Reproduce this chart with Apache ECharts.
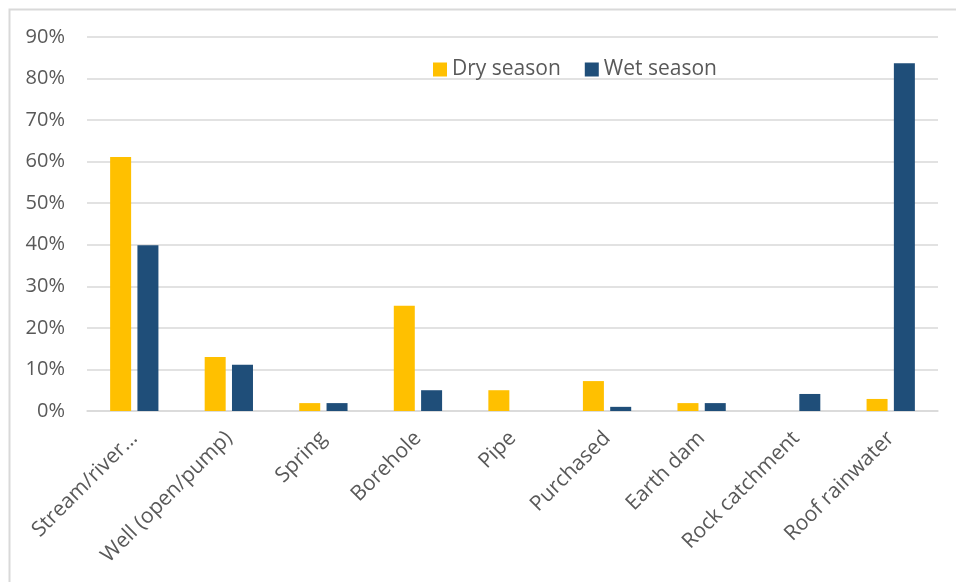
<!DOCTYPE html>
<html>
<head>
<meta charset="utf-8">
<script src="https://cdn.jsdelivr.net/npm/echarts@6/dist/echarts.min.js"></script>
<style>html,body{margin:0;padding:0;background:#fff;}#c{width:956px;height:582px;}</style>
</head>
<body>
<div id="c"></div>
<script>
const categories = ['Stream/river...', 'Well (open/pump)', 'Spring', 'Borehole', 'Pipe', 'Purchased', 'Earth dam', 'Rock catchment', 'Roof rainwater'];
const drySeason = [0.611, 0.130, 0.019, 0.253, 0.050, 0.072, 0.019, 0, 0.029];
const wetSeason = [0.399, 0.111, 0.019, 0.050, 0, 0.010, 0.019, 0.041, 0.837];
const seriesNames = ['Dry season', 'Wet season'];

const FONT = 'Open Sans';
const GREY = '#595959';
const chart = echarts.init(document.getElementById('c'));
chart.setOption({
  animation: false,
  textStyle: { fontFamily: FONT },
  graphic: [{
    type: 'rect', left: 7, top: 7, z: -1,
    shape: { width: 960, height: 590 },
    style: { fill: 'none', stroke: '#d9d9d9', lineWidth: 2 }
  }],
  legend: {
    left: 428, top: 54,
    itemWidth: 14, itemHeight: 14, itemGap: 24,
    icon: 'rect',
    textStyle: { fontFamily: FONT, fontSize: 21, color: GREY },
    data: seriesNames
  },
  grid: { left: 87, right: 18, top: 37, bottom: 171, containLabel: false },
  xAxis: {
    type: 'category',
    data: categories,
    axisLine: { lineStyle: { color: '#d9d9d9', width: 1.5 } },
    axisTick: { show: false },
    axisLabel: { rotate: 45, fontSize: 21, color: GREY, fontFamily: FONT, margin: 24, interval: 0 }
  },
  yAxis: {
    type: 'value', min: 0, max: 0.9, interval: 0.1,
    axisLine: { show: false }, axisTick: { show: false },
    splitLine: { lineStyle: { color: '#d9d9d9', width: 1.5 } },
    axisLabel: {
      fontSize: 20, color: GREY, fontFamily: FONT, margin: 22,
      formatter: v => Math.round(v * 100) + '%'
    }
  },
  series: [
    { name: seriesNames[0], type: 'bar', data: drySeason, barWidth: 21, barGap: '30%', itemStyle: { color: '#FFC000' } },
    { name: seriesNames[1], type: 'bar', data: wetSeason, barWidth: 21, itemStyle: { color: '#1F4E79' } }
  ]
});
</script>
</body>
</html>
